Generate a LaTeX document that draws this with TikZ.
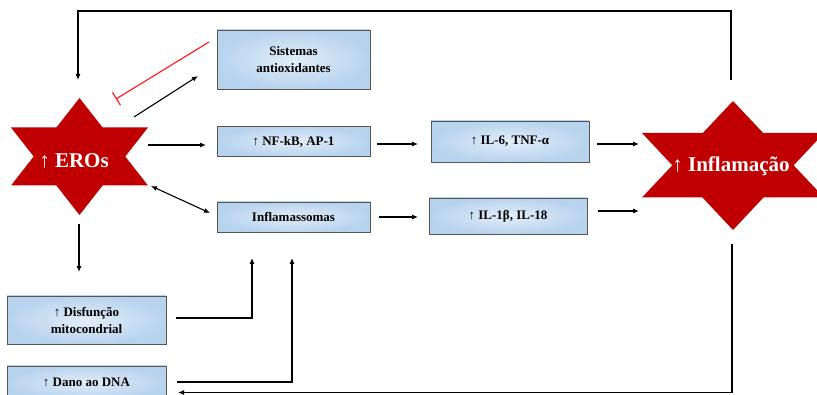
\documentclass[tikz,border=0pt]{standalone}
\usepackage{fontspec}
\setmainfont{Liberation Serif}
\usetikzlibrary{arrows.meta}
\definecolor{starred}{RGB}{192,0,0}
\definecolor{boxout}{RGB}{184,211,238}
\definecolor{boxin}{RGB}{226,237,249}
\definecolor{boxline}{RGB}{85,85,85}
\definecolor{inhib}{RGB}{255,20,20}
\begin{document}
\begin{tikzpicture}[x=1pt,y=-1pt,
  box/.style={draw=boxline, line width=0.9pt, inner color=boxin, outer color=boxout,
    align=center, font=\bfseries\fontsize{13}{17}\selectfont, inner sep=0pt},
  starlbl/.style={text=white, font=\bfseries\fontsize{21}{24}\selectfont, inner sep=0pt},
  starfill/.style={fill=starred},
  arr/.style={-{Latex[length=6pt,width=5pt]}, line width=1.1pt},
  darr/.style={{Latex[length=6pt,width=5pt]}-{Latex[length=6pt,width=5pt]}, line width=1.1pt},
  inh/.style={-{Bar[width=15pt]}, draw=inhib, line width=1.1pt}]
\useasboundingbox (0,0) rectangle (817,395);
\fill[white] (0,0) rectangle (817,395);
\begin{scope}
\clip (0,0) rectangle (817,395);
% stars
\fill[starfill] (79.5,98) -- (11,185.5) -- (148,185.5) -- cycle;
\fill[starfill] (79.5,215) -- (11,127.5) -- (148,127.5) -- cycle;
\fill[starfill] (733,101) -- (642,197.5) -- (824,197.5) -- cycle;
\fill[starfill] (733,230) -- (642,133) -- (824,133) -- cycle;
\node[starlbl] (eros) at (74,161) {↑ EROs};
\node[starlbl] (infl) at (731,166) {↑ Inflamação};
% boxes
\node[box, minimum width=153, minimum height=59] (sis) at (293.5,59.5) {Sistemas\\antioxidantes};
\node[box, minimum width=153, minimum height=30] (nfkb) at (293.5,141.5) {↑ NF-kB, AP-1};
\node[box, minimum width=158, minimum height=41] (il6) at (510,141.5) {↑ IL-6, TNF-α};
\node[box, minimum width=153, minimum height=30] (inf) at (293.5,217) {Inflamassomas};
\node[box, minimum width=158, minimum height=36] (il1) at (508,216) {↑ IL-1β, IL-18};
\node[box, minimum width=159, minimum height=48] (dis) at (86.5,320) {↑ Disfunção\\mitocondrial};
\node[box, minimum width=159, minimum height=33] (dna) at (86.5,382.5) {↑ Dano ao DNA};
% connector end points
\coordinate (c1a) at (731,80);   \coordinate (c1b) at (78,80);
\coordinate (c2a) at (209,42);   \coordinate (c2b) at (116,99);
\coordinate (c3a) at (134,117);  \coordinate (c3b) at (198,76);
\coordinate (c4a) at (148,145);  \coordinate (c4b) at (206,145);
\coordinate (c5a) at (377,144);  \coordinate (c5b) at (418,144);
\coordinate (c6a) at (597,144);  \coordinate (c6b) at (639,144);
\coordinate (c7a) at (151,186);  \coordinate (c7b) at (210,213);
\coordinate (c8a) at (379,217);  \coordinate (c8b) at (418,217);
\coordinate (c9a) at (598,211);  \coordinate (c9b) at (639,211);
\coordinate (c10a) at (79,224);  \coordinate (c10b) at (79,272);
\coordinate (c11a) at (176,318); \coordinate (c11b) at (252,258);
\coordinate (c12a) at (177,382); \coordinate (c12b) at (292,258);
\coordinate (c13a) at (732,244); \coordinate (c13b) at (178,392.5);
% connectors
\draw[arr] (c1a) -- ++(0,-69) -| (c1b);
\draw[inh] (c2a) -- (c2b);
\draw[arr] (c3a) -- (c3b);
\draw[arr] (c4a) -- (c4b);
\draw[arr] (c5a) -- (c5b);
\draw[arr] (c6a) -- (c6b);
\draw[darr] (c7a) -- (c7b);
\draw[arr] (c8a) -- (c8b);
\draw[arr] (c9a) -- (c9b);
\draw[arr] (c10a) -- (c10b);
\draw[arr] (c11a) -| (c11b);
\draw[arr] (c12a) -| (c12b);
\draw[arr] (c13a) |- (c13b);
\end{scope}
\end{tikzpicture}
\end{document}
